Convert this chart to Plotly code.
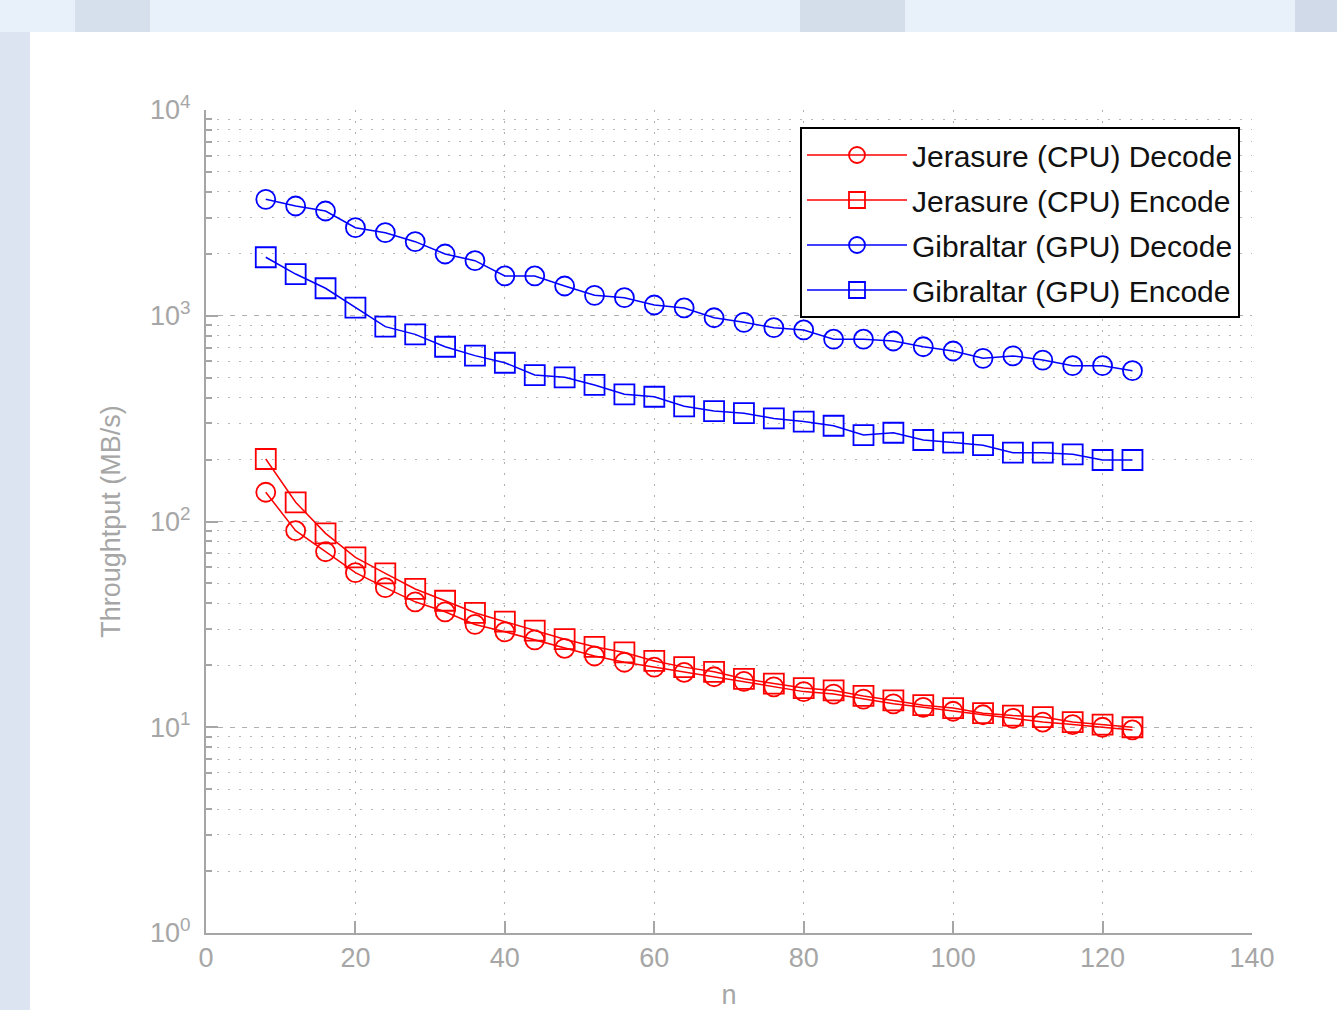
import plotly.graph_objects as go

n_values = [8, 12, 16, 20, 24, 28, 32, 36, 40, 44, 48, 52, 56, 60, 64,
            68, 72, 76, 80, 84, 88, 92, 96, 100, 104, 108, 112, 116, 120, 124]

jerasure_decode = [138.7, 90.2, 71.3, 56.4, 47.7, 40.7, 36.4, 31.6, 29.1, 26.6,
                   24.2, 22.2, 20.7, 19.6, 18.5, 17.6, 16.7, 15.7, 14.9, 14.5,
                   13.7, 13.0, 12.5, 11.96, 11.5, 11.05, 10.6, 10.3, 10.0, 9.7]
jerasure_encode = [201.3, 124.0, 87.6, 67.0, 56.0, 47.0, 41.2, 36.0, 32.6, 29.5,
                   26.8, 24.6, 23.1, 21.0, 19.6, 18.6, 17.2, 16.3, 15.5, 15.1,
                   14.2, 13.5, 12.8, 12.4, 11.7, 11.4, 11.2, 10.6, 10.3, 10.0]
gibraltar_decode = [3681, 3415, 3229, 2679, 2533, 2291, 1996, 1852, 1561, 1561,
                    1395, 1257, 1224, 1128, 1091, 978, 929, 875, 853, 769,
                    769, 754, 707, 674, 621, 638, 609, 572, 572, 541]
gibraltar_encode = [1924, 1595, 1360, 1094, 885, 812, 707, 640, 591, 515,
                    502, 461, 415, 404, 363, 344, 336, 317, 306, 292,
                    263, 270, 249, 242, 235, 216, 216, 212, 199, 199]

series_names = ["Jerasure (CPU) Decode", "Jerasure (CPU) Encode",
                "Gibraltar (GPU) Decode", "Gibraltar (GPU) Encode"]
x_ticks = [0, 20, 40, 60, 80, 100, 120, 140]
y_major = [1, 10, 100, 1000, 10000]
y_major_text = ["10<sup>0</sup>", "10<sup>1</sup>", "10<sup>2</sup>", "10<sup>3</sup>", "10<sup>4</sup>"]
y_minor = [m * 10 ** e for e in range(0, 4) for m in range(2, 10)]

series = [
    (series_names[0], jerasure_decode, "#ff0000", "circle-open", 19),
    (series_names[1], jerasure_encode, "#ff0000", "square-open", 20),
    (series_names[2], gibraltar_decode, "#0000ff", "circle-open", 19),
    (series_names[3], gibraltar_encode, "#0000ff", "square-open", 20),
]

fig = go.Figure()
for i, (name, vals, col, sym, sz) in enumerate(series):
    fig.add_trace(go.Scatter(
        x=n_values, y=vals, name=name, mode="lines+markers",
        legendgroup=f"g{i}",
        line=dict(color=col, width=1.5),
        marker=dict(symbol=sym, size=sz, color=col, line=dict(color=col, width=1.8)),
    ))

# page geometry (pixels)
W, H = 1337, 1010
L, R, T, B = 206, 1252, 110, 933
pw, ph = R - L, B - T

def px_x(p):
    return (p - L) / pw

def px_y(p):
    return (B - p) / ph

shapes = [
    dict(type="rect", xref="paper", yref="paper", x0=px_x(75), x1=px_x(150), y0=px_y(32), y1=px_y(0),
         fillcolor="#d6e0ed", line=dict(width=0), layer="below"),
    dict(type="rect", xref="paper", yref="paper", x0=px_x(800), x1=px_x(905), y0=px_y(32), y1=px_y(0),
         fillcolor="#d4deeb", line=dict(width=0), layer="below"),
    dict(type="rect", xref="paper", yref="paper", x0=px_x(1295), x1=px_x(1337), y0=px_y(32), y1=px_y(0),
         fillcolor="#d0dae8", line=dict(width=0), layer="below"),
    dict(type="rect", xref="paper", yref="paper", x0=px_x(0), x1=px_x(30), y0=px_y(1010), y1=px_y(32),
         fillcolor="#dbe4f0", line=dict(width=0), layer="below"),
    dict(type="rect", xref="paper", yref="paper", x0=px_x(30), x1=px_x(1337), y0=px_y(1010), y1=px_y(32),
         fillcolor="#ffffff", line=dict(width=0), layer="below"),
]

tick_font = dict(family="Liberation Sans Narrow, Liberation Sans, Arial", size=27, color="#a6a6a6")

fig.update_layout(
    width=W, height=H,
    margin=dict(l=L, r=W - R, t=T, b=H - B, pad=0, autoexpand=False),
    paper_bgcolor="#e8f0f9",
    plot_bgcolor="rgba(0,0,0,0)",
    shapes=shapes,
    showlegend=True,
    legend=dict(
        x=px_x(1240), y=px_y(127), xanchor="right", yanchor="top",
        bgcolor="#ffffff", bordercolor="#000000", borderwidth=2,
        font=dict(family="Liberation Sans, Arial", size=30, color="#111111"),
        tracegroupgap=3,
        itemwidth=100,
    ),
    xaxis=dict(
        range=[0, 140], tickmode="array", tickvals=x_ticks, automargin=False,
        showline=True, linecolor="#a6a6a6", linewidth=2,
        ticks="inside", ticklen=12, tickcolor="#a6a6a6", tickwidth=1.5,
        showgrid=True, gridcolor="#b0b0b0", gridwidth=1.3, griddash="2px,9px",
        zeroline=False, tickfont=tick_font,
        title=dict(text="n", font=tick_font, standoff=22),
    ),
    yaxis=dict(
        type="log", range=[0, 4], tickmode="array", tickvals=y_major, ticktext=y_major_text,
        automargin=False,
        showline=True, linecolor="#a6a6a6", linewidth=2,
        ticks="inside", ticklen=12, tickcolor="#a6a6a6", tickwidth=1.5,
        showgrid=True, gridcolor="#b0b0b0", gridwidth=1.3, griddash="5px,7px",
        minor=dict(tickmode="array", tickvals=y_minor, ticks="inside", ticklen=6,
                   tickcolor="#a6a6a6", showgrid=True, gridcolor="#b8b8b8",
                   gridwidth=1.3, griddash="2px,9px"),
        zeroline=False, tickfont=tick_font, ticklabelstandoff=8,
        title=dict(text="Throughtput (MB/s)", font=tick_font, standoff=22),
    ),
)

fig.write_html(
    "out.html",
    config={"displayModeBar": False},
    post_script="document.body.style.margin='0';document.body.style.background='#e8f0f9';",
)
